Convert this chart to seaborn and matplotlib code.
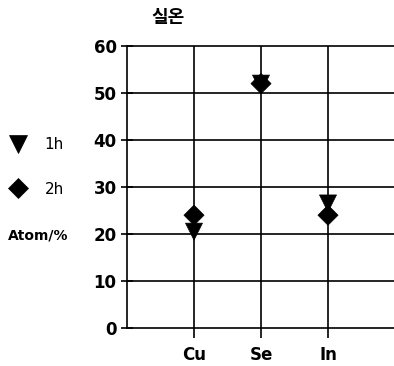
import matplotlib
matplotlib.use("Agg")
import matplotlib.pyplot as plt
import seaborn as sns
import pandas as pd

# Composition (atomic %) after 1 h and 2 h at room temperature
elements = ["Cu", "Se", "In"]
pct_1h = [20.5, 52, 26.5]
pct_2h = [24, 52, 24]
y_ticks = [0, 10, 20, 30, 40, 50, 60]

df = pd.DataFrame({
    "element": elements * 2,
    "pct": pct_1h + pct_2h,
    "time": ["1h"] * len(elements) + ["2h"] * len(elements),
})

sns.set_style("ticks")
plt.rcParams["font.family"] = ["DejaVu Sans", "Noto Sans CJK KR"]
plt.rcParams["text.color"] = "black"
plt.rcParams["xtick.color"] = "black"
plt.rcParams["ytick.color"] = "black"

fig = plt.figure(figsize=(3.94, 3.66), dpi=100)
ax = fig.add_axes([127 / 394, 1 - 328 / 366, 1 - 127 / 394, 282 / 366])

sns.scatterplot(
    data=df, x="element", y="pct", style="time", size="time",
    markers={"1h": "v", "2h": "D"}, sizes={"1h": 150, "2h": 105},
    color="black", edgecolor="black", linewidth=0.5, zorder=5, ax=ax,
)

ax.set_ylim(0, 60)
ax.set_xlim(-1, 2.985)
ax.set_yticks(y_ticks)
ax.set_xlabel("")
ax.set_ylabel("")
ax.grid(True, color="black", linewidth=1.2)
ax.set_axisbelow(True)
for side in ["top", "right", "bottom"]:
    ax.spines[side].set_visible(False)
ax.spines["left"].set_color("black")
ax.spines["left"].set_linewidth(1.2)
ax.tick_params(axis="y", direction="inout", length=9, width=1.2,
               color="black", labelcolor="black", labelsize=12, pad=3)
ax.tick_params(axis="x", direction="out", length=7, width=1.2,
               color="black", labelcolor="black", labelsize=12, pad=6)
for lbl in ax.get_xticklabels() + ax.get_yticklabels():
    lbl.set_fontweight("bold")
for gl in ax.get_ygridlines():
    gl.set_clip_on(False)

sns.move_legend(
    ax, "center left", bbox_to_anchor=(8 / 394, 1 - 167 / 366),
    bbox_transform=fig.transFigure, title=None, frameon=False,
    fontsize=11, labelspacing=1.9, handlelength=1.3, handletextpad=1.1,
    borderpad=0, borderaxespad=0,
)

fig.text(168 / 394, 1 - 17 / 366, "실온", ha="center", va="center",
         fontsize=13, fontweight="bold", family=["Noto Sans CJK KR", "DejaVu Sans"])
fig.text(8 / 394, 1 - 235 / 366, "Atom/%", ha="left", va="center",
         fontsize=10, fontweight="bold")

fig.savefig("out.png", dpi=100)
